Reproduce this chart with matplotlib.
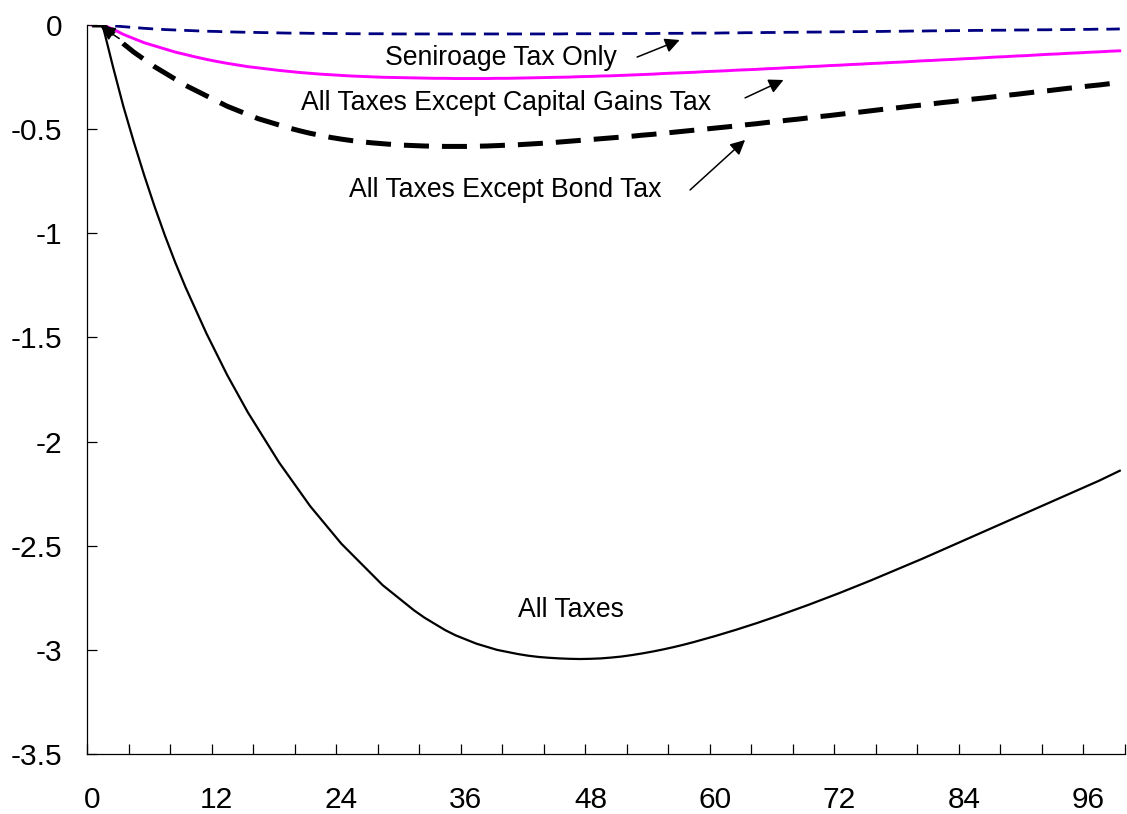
import matplotlib
matplotlib.use("Agg")
import matplotlib.pyplot as plt
import numpy as np

plt.rcParams['font.family'] = ['Liberation Sans', 'DejaVu Sans']

# quarters after the shock, 0..99
periods = np.arange(100)

all_taxes = [
    0.0, 0.0, -0.20, -0.39, -0.56, -0.72, -0.87, -1.01, -1.14, -1.26,
    -1.37, -1.48, -1.58, -1.68, -1.77, -1.86, -1.94, -2.02, -2.10, -2.17,
    -2.24, -2.31, -2.37, -2.43, -2.49, -2.54, -2.59, -2.64, -2.69, -2.73,
    -2.77, -2.81, -2.845, -2.875, -2.905, -2.93, -2.95, -2.97, -2.985, -3.0,
    -3.01, -3.02, -3.028, -3.034, -3.038, -3.041, -3.043, -3.044, -3.043, -3.041,
    -3.037, -3.032, -3.025, -3.017, -3.008, -2.998, -2.987, -2.975, -2.962, -2.948,
    -2.934, -2.919, -2.904, -2.888, -2.872, -2.855, -2.838, -2.82, -2.802, -2.784,
    -2.765, -2.746, -2.727, -2.707, -2.687, -2.667, -2.646, -2.625, -2.604, -2.583,
    -2.562, -2.54, -2.518, -2.496, -2.474, -2.452, -2.43, -2.408, -2.386, -2.364,
    -2.342, -2.32, -2.298, -2.276, -2.254, -2.232, -2.21, -2.188, -2.164, -2.14,
]

except_bond = [
    0.0, 0.0, -0.04, -0.09, -0.13, -0.165, -0.20, -0.23, -0.26, -0.29,
    -0.315, -0.34, -0.365, -0.39, -0.41, -0.43, -0.45, -0.465, -0.48, -0.495,
    -0.508, -0.52, -0.53, -0.54, -0.548, -0.555, -0.561, -0.566, -0.57, -0.574,
    -0.577, -0.579, -0.581, -0.582, -0.583, -0.583, -0.583, -0.582, -0.581, -0.579,
    -0.577, -0.575, -0.572, -0.569, -0.566, -0.562, -0.558, -0.554, -0.55, -0.546,
    -0.542, -0.538, -0.534, -0.529, -0.525, -0.52, -0.515, -0.51, -0.505, -0.5,
    -0.495, -0.49, -0.485, -0.479, -0.474, -0.468, -0.463, -0.457, -0.452, -0.446,
    -0.44, -0.435, -0.429, -0.423, -0.418, -0.412, -0.406, -0.401, -0.395, -0.389,
    -0.384, -0.378, -0.372, -0.367, -0.361, -0.355, -0.35, -0.344, -0.338, -0.333,
    -0.327, -0.321, -0.316, -0.31, -0.304, -0.299, -0.293, -0.288, -0.282, -0.277,
]

except_cap_gains = [
    0.0, 0.0, -0.02, -0.045, -0.065, -0.085, -0.10, -0.115, -0.13, -0.142,
    -0.154, -0.165, -0.175, -0.184, -0.192, -0.2, -0.206, -0.212, -0.218, -0.223,
    -0.228, -0.232, -0.236, -0.239, -0.242, -0.245, -0.247, -0.249, -0.251, -0.252,
    -0.253, -0.254, -0.255, -0.256, -0.256, -0.257, -0.257, -0.257, -0.257, -0.256,
    -0.256, -0.255, -0.254, -0.253, -0.252, -0.251, -0.25, -0.248, -0.247, -0.245,
    -0.244, -0.242, -0.24, -0.238, -0.236, -0.233, -0.231, -0.229, -0.227, -0.224,
    -0.222, -0.22, -0.217, -0.215, -0.213, -0.21, -0.208, -0.205, -0.203, -0.2,
    -0.198, -0.195, -0.193, -0.19, -0.188, -0.185, -0.183, -0.18, -0.178, -0.175,
    -0.172, -0.17, -0.167, -0.165, -0.162, -0.16, -0.157, -0.154, -0.152, -0.149,
    -0.147, -0.144, -0.141, -0.139, -0.136, -0.134, -0.131, -0.129, -0.126, -0.124,
]

seigniorage = [
    0.0, 0.0, -0.004, -0.008, -0.012, -0.016, -0.019, -0.022, -0.024, -0.026,
    -0.028, -0.03, -0.031, -0.033, -0.034, -0.035, -0.036, -0.037, -0.038, -0.039,
    -0.039, -0.04, -0.04, -0.041, -0.041, -0.042, -0.042, -0.042, -0.042, -0.043,
    -0.043, -0.043, -0.043, -0.043, -0.043, -0.043, -0.043, -0.043, -0.043, -0.043,
    -0.043, -0.043, -0.043, -0.043, -0.043, -0.043, -0.042, -0.042, -0.042, -0.042,
    -0.042, -0.041, -0.041, -0.041, -0.041, -0.04, -0.04, -0.04, -0.039, -0.039,
    -0.039, -0.038, -0.038, -0.037, -0.037, -0.036, -0.036, -0.035, -0.035, -0.034,
    -0.034, -0.033, -0.033, -0.032, -0.032, -0.031, -0.031, -0.03, -0.03, -0.029,
    -0.029, -0.028, -0.028, -0.027, -0.027, -0.026, -0.026, -0.025, -0.025, -0.024,
    -0.024, -0.023, -0.023, -0.022, -0.022, -0.021, -0.021, -0.02, -0.02, -0.019,
]

xtick_labels = ['0', '12', '24', '36', '48', '60', '72', '84', '96']
ytick_values = [0, -0.5, -1, -1.5, -2, -2.5, -3, -3.5]
ytick_labels = ['0', '-0.5', '-1', '-1.5', '-2', '-2.5', '-3', '-3.5']

fig = plt.figure(figsize=(11.27, 8.14), dpi=100)
ax = fig.add_axes([0.0772, 0.0737, 0.921, 0.8956])

ax.plot(periods, seigniorage, color='#000080', lw=2.0, dashes=(5.4, 2.9))
ax.plot(periods, except_cap_gains, color='#FF00FF', lw=2.1)
ax.plot(periods, except_bond, color='black', lw=3.6, dashes=(5.0, 2.6))
ax.plot(periods, all_taxes, color='black', lw=1.6)

ax.set_xlim(-0.5, 99.5)
ax.set_ylim(-3.5, 0)

# category style axis: ticks between categories, labels on every 12th
ax.set_xticks(np.arange(-0.5, 100, 4))
ax.set_xticklabels([])
ax.set_xticks(np.arange(0, 97, 12), minor=True)
ax.set_xticklabels(xtick_labels, minor=True)
ax.tick_params(axis='x', which='major', direction='in', length=7, width=0.9)
ax.tick_params(axis='x', which='minor', length=0, pad=23, labelsize=21.5)

ax.set_yticks(ytick_values)
ax.set_yticklabels(ytick_labels)
ax.tick_params(axis='y', direction='in', length=7, width=0.9, pad=18, labelsize=21.5)

for side in ['top', 'right']:
    ax.spines[side].set_visible(False)
for side in ['left', 'bottom']:
    ax.spines[side].set_linewidth(0.9)

arrow = dict(arrowstyle='-|>', color='black', lw=1.1, mutation_scale=22,
             shrinkA=0, shrinkB=0)

ax.text(39.4, -0.158, 'Seniroage Tax Only', fontsize=19.2, ha='center', va='center')
ax.annotate('', xy=(56.6, -0.072), xytext=(52.5, -0.154), arrowprops=arrow)

ax.text(39.9, -0.374, 'All Taxes Except Capital Gains Tax', fontsize=19.2,
        ha='center', va='center')
ax.annotate('', xy=(66.6, -0.264), xytext=(62.9, -0.350), arrowprops=arrow)

ax.text(39.8, -0.792, 'All Taxes Except Bond Tax', fontsize=19.2,
        ha='center', va='center')
ax.annotate('', xy=(62.9, -0.552), xytext=(57.6, -0.792), arrowprops=arrow)

ax.text(46.1, -2.808, 'All Taxes', fontsize=19.2, ha='center', va='center')

ax.annotate('', xy=(0.8, -0.005), xytext=(2.6, -0.065), arrowprops=arrow)

fig.savefig('out.png', dpi=100)
